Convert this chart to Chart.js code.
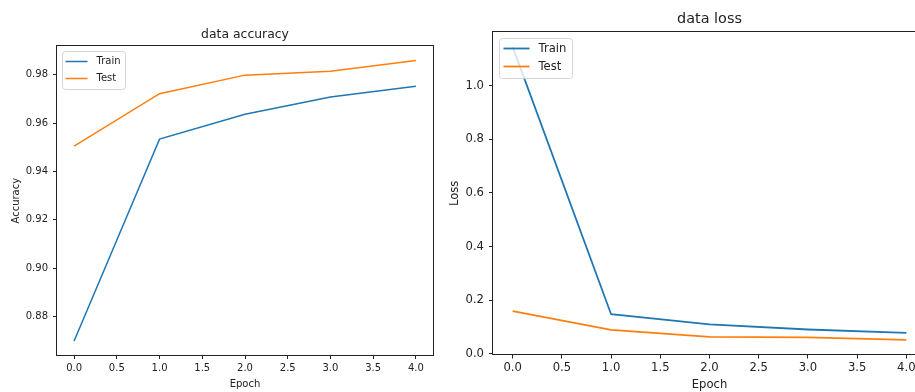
<!DOCTYPE html>
<html>
<head>
<meta charset="utf-8">
<script src="https://cdn.jsdelivr.net/npm/chart.js@4.4.1/dist/chart.umd.min.js"></script>
<style>
html, body { margin: 0; padding: 0; background: #fff; overflow: hidden; width: 915px; height: 392px; }
#accChart { position: absolute; left: 0; top: 0; }
#lossChart { position: absolute; left: 440px; top: 0; }
</style>
</head>
<body>
<canvas id="accChart" width="440" height="392"></canvas>
<canvas id="lossChart" width="500" height="392"></canvas>
<script>
// data
const epochs = [0, 1, 2, 3, 4];
const accTrain = [0.8698, 0.9534, 0.9637, 0.9708, 0.9753];
const accTest = [0.9505, 0.9722, 0.9799, 0.9815, 0.9860];
const lossTrain = [1.145, 0.1476, 0.110, 0.0907, 0.078];
const lossTest = [0.159, 0.089, 0.063, 0.061, 0.052];

// tick labels
const epochTicks = [0, 0.5, 1, 1.5, 2, 2.5, 3, 3.5, 4];
const accTicks = [0.88, 0.90, 0.92, 0.94, 0.96, 0.98];
const lossTicks = [0, 0.2, 0.4, 0.6, 0.8, 1.0];

const BLUE = '#1f77b4';
const ORANGE = '#ff7f0e';
const INK = '#222';
const FONT = '"DejaVu Sans", sans-serif';

Chart.defaults.font.family = FONT;
Chart.defaults.color = INK;

// matplotlib-ish 5% margins
function limits(a, b) {
  const lo = Math.min(...a, ...b), hi = Math.max(...a, ...b);
  const pad = (hi - lo) * 0.05;
  return [lo - pad, hi + pad];
}

function points(ys) {
  return epochs.map((x, i) => ({ x: x, y: ys[i] }));
}

// box around the plot area (all four spines)
const frame = {
  id: 'frame',
  afterDatasetsDraw(chart) {
    const a = chart.chartArea, ctx = chart.ctx;
    ctx.save();
    ctx.strokeStyle = INK;
    ctx.lineWidth = 1;
    ctx.strokeRect(Math.round(a.left) - 0.5, Math.round(a.top) - 0.5,
      Math.round(a.right - a.left) + 1, Math.round(a.bottom - a.top) + 1);
    ctx.restore();
  }
};

// legend drawn inside the axes, upper left
const boxLegend = {
  id: 'boxLegend',
  afterDatasetsDraw(chart, args, o) {
    const ctx = chart.ctx, a = chart.chartArea;
    const x = Math.round(a.left + o.inset) + 0.5, y = Math.round(a.top + o.inset) + 0.5;
    ctx.save();
    ctx.globalAlpha = 0.8;
    ctx.fillStyle = '#fff';
    ctx.strokeStyle = '#ccc';
    ctx.lineWidth = 1;
    ctx.beginPath();
    ctx.roundRect(x, y, o.width, o.height, 3);
    ctx.fill();
    ctx.stroke();
    ctx.globalAlpha = 1;
    ctx.font = o.fontSize + 'px ' + FONT;
    ctx.textBaseline = 'middle';
    ctx.fillStyle = INK;
    chart.data.datasets.forEach((ds, i) => {
      const ry = y + o.rows[i];
      ctx.strokeStyle = ds.borderColor;
      ctx.lineWidth = ds.borderWidth;
      ctx.beginPath();
      ctx.moveTo(x + o.handle[0], ry);
      ctx.lineTo(x + o.handle[1], ry);
      ctx.stroke();
      ctx.fillText(ds.label, x + o.textX, ry);
    });
    ctx.restore();
  }
};

function makeChart(id, c) {
  const [ymin, ymax] = limits(c.train, c.test);
  return new Chart(document.getElementById(id), {
    type: 'line',
    data: {
      datasets: [
        { label: 'Train', data: points(c.train), borderColor: BLUE, borderWidth: c.lw, pointRadius: 0, tension: 0 },
        { label: 'Test', data: points(c.test), borderColor: ORANGE, borderWidth: c.lw, pointRadius: 0, tension: 0 }
      ]
    },
    options: {
      responsive: false,
      animation: false,
      devicePixelRatio: 1,
      layout: { padding: { left: 0, right: c.padRight, top: 0, bottom: 0 } },
      plugins: {
        legend: { display: false },
        tooltip: { enabled: false },
        title: {
          display: true,
          text: c.title,
          fullSize: false,
          color: INK,
          font: { size: c.titleSize, weight: 'normal' },
          padding: c.titlePad
        },
        boxLegend: c.legend
      },
      scales: {
        x: {
          type: 'linear',
          min: -0.2,
          max: 4.2,
          afterBuildTicks: s => { s.ticks = epochTicks.map(v => ({ value: v })); },
          afterFit: s => { s.height = c.xHeight; },
          grid: { display: true, drawOnChartArea: false, tickLength: 4, color: INK },
          border: { display: false },
          ticks: { font: { size: c.tickSize }, color: INK, padding: 3, maxRotation: 0,
            callback: v => v.toFixed(1) },
          title: { display: true, text: 'Epoch', color: INK, font: { size: c.tickSize },
            padding: { top: 0, bottom: c.xTitlePad } }
        },
        y: {
          min: ymin,
          max: ymax,
          afterBuildTicks: s => { s.ticks = c.yTicks.map(v => ({ value: v })); },
          afterFit: s => { s.width = c.yWidth; },
          grid: { display: true, drawOnChartArea: false, tickLength: 4, color: INK },
          border: { display: false },
          ticks: { font: { size: c.tickSize }, color: INK, padding: 5,
            callback: v => v.toFixed(c.yDigits) },
          title: { display: true, text: c.yLabel, color: INK, font: { size: c.tickSize },
            padding: { top: c.yTitlePad, bottom: 0 } }
        }
      }
    },
    plugins: [frame, boxLegend]
  });
}

makeChart('accChart', {
  train: accTrain, test: accTest, yTicks: accTicks, yDigits: 2,
  title: 'data accuracy', yLabel: 'Accuracy',
  lw: 1.5, tickSize: 10, titleSize: 12.4,
  titlePad: { top: 27, bottom: 4.5 },
  padRight: 7, yWidth: 57, xHeight: 37, yTitlePad: 10, xTitlePad: 2,
  legend: { inset: 5, width: 63, height: 38, rows: [10, 27], handle: [3, 25], textX: 34, fontSize: 10 }
});

makeChart('lossChart', {
  train: lossTrain, test: lossTest, yTicks: lossTicks, yDigits: 1,
  title: 'data loss', yLabel: 'Loss',
  lw: 1.8, tickSize: 11.6, titleSize: 14.4,
  titlePad: { top: 11, bottom: 4 },
  padRight: 14, yWidth: 53, xHeight: 37.5, yTitlePad: 8, xTitlePad: 0,
  legend: { inset: 6, width: 73, height: 40, rows: [10, 28], handle: [4, 30], textX: 39, fontSize: 11.6 }
});
</script>
</body>
</html>
